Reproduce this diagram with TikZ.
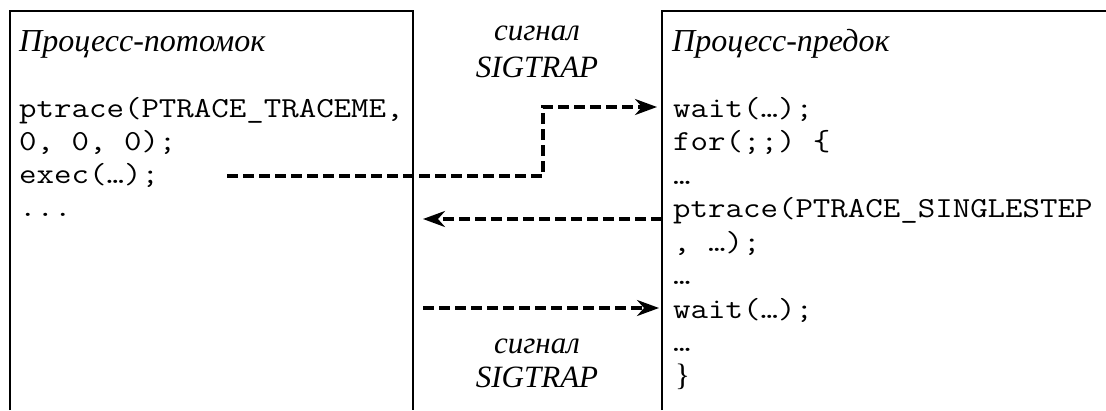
\documentclass[tikz,border=0pt]{standalone}
\usepackage{fontspec}
\usepackage{graphicx}
\setmainfont{Liberation Serif}
\usetikzlibrary{arrows.meta}
\newcommand\codetxt[1]{\scalebox{1.17}[1]{#1}}
\begin{document}
\begin{tikzpicture}[x=1pt,y=-1pt,
  code/.style={font=\ttfamily\fontsize{29}{33}\selectfont, anchor=base west, inner sep=0pt},
  ttl/.style={font=\itshape\fontsize{32}{36}\selectfont, anchor=base west, inner sep=0pt},
  sig/.style={font=\itshape\fontsize{31}{36}\selectfont, anchor=base, inner sep=0pt},
  frame/.style={line width=1.8pt},
  sigline/.style={line width=3.2pt, dash pattern=on 11pt off 5pt},
  sigarrow/.style={sigline, -{Stealth[length=22pt,width=16pt,inset=7pt]}}]
\useasboundingbox (0,0) rectangle (1106,410);
% boxes (open at the bottom)
\draw[frame] (10,410) -- (10,11) -- (413,11) -- (413,410);
\draw[frame] (662,410) -- (662,11) -- (1106,11);
% left box text
\node[ttl] (lt) at (19,51) {Процесс-потомок};
\node[code] (l1) at (19,117) {\codetxt{ptrace(PTRACE\_TRACEME,}};
\node[code] (l2) at (19,150) {\codetxt{0, 0, 0);}};
\node[code] (l3) at (19,183) {\codetxt{exec(…);}};
\node[code] (l4) at (19,216) {\codetxt{...}};
% right box text
\node[ttl] (rt) at (672,51) {Процесс-предок};
\node[code] (r1) at (673,117) {\codetxt{wait(…);}};
\node[code] (r2) at (673,150) {\codetxt{for(;;) \{}};
\node[code] (r3) at (673,184) {\codetxt{…}};
\node[code] (r4) at (673,217) {\codetxt{ptrace(PTRACE\_SINGLESTEP}};
\node[code] (r5) at (673,251) {\codetxt{, …);}};
\node[code] (r6) at (673,284) {\codetxt{…}};
\node[code] (r7) at (673,318) {\codetxt{wait(…);}};
\node[code] (r8) at (673,351) {\codetxt{…}};
\node[ttl, font=\fontsize{31}{36}\selectfont] (r9) at (675,385) {\}};
% signal labels
\node[sig] (s1a) at (537,40) {сигнал};
\node[sig] (s1b) at (537,77) {SIGTRAP};
\node[sig] (s2a) at (537,353) {сигнал};
\node[sig] (s2b) at (537,387) {SIGTRAP};
% connectors
\coordinate (a0) at (227,176);
\coordinate (a1) at (543,176);
\coordinate (a2) at (543,107);
\coordinate (a3) at (657,107);
\draw[sigarrow] (a0) -- (a1) -- (a2) -- (a3);
\coordinate (m0) at (662,219);
\coordinate (m1) at (423,219);
\draw[sigarrow] (m0) -- (m1);
\coordinate (b0) at (423,308);
\coordinate (b1) at (659,308);
\draw[sigarrow] (b0) -- (b1);
\end{tikzpicture}
\end{document}
